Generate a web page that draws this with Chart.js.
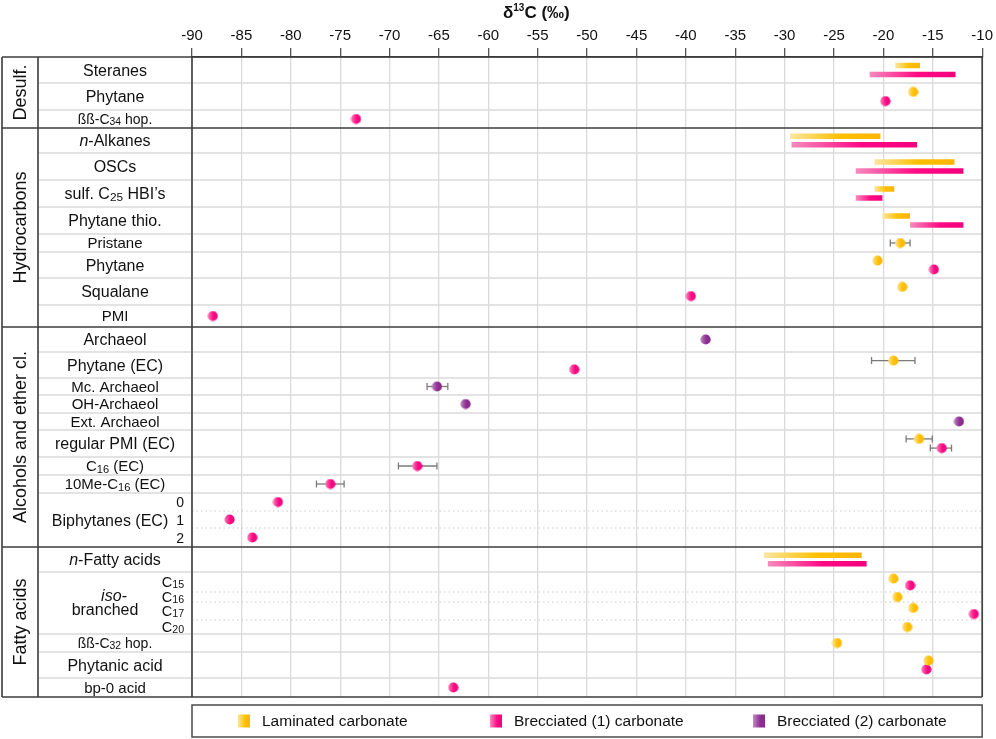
<!DOCTYPE html>
<html>
<head>
<meta charset="utf-8">
<script src="https://cdn.jsdelivr.net/npm/chart.js@4.4.1/dist/chart.umd.min.js"></script>
<style>
  html, body { margin: 0; padding: 0; background: #fff; }
  #wrap { width: 996px; height: 739px; position: relative; }
</style>
</head>
<body>
<div id="wrap"><canvas id="isoChart"></canvas></div>
<script>
// rows top to bottom; {..} = small digits, *..* = italic
const rowLabels = [
  'Steranes', 'Phytane', 'ßß-C{34} hop.',
  '*n*-Alkanes', 'OSCs', 'sulf. C{25} HBI’s', 'Phytane thio.', 'Pristane', 'Phytane', 'Squalane', 'PMI',
  'Archaeol', 'Phytane (EC)', 'Mc. Archaeol', 'OH-Archaeol', 'Ext. Archaeol', 'regular PMI (EC)',
  'C{16} (EC)', '10Me-C{16} (EC)', '0', '1', '2',
  '*n*-Fatty acids', 'C{15}', 'C{16}', 'C{17}', 'C{20}', 'ßß-C{32} hop.', 'Phytanic acid', 'bp-0 acid'
];
const groupNames = ['Desulf.', 'Hydrocarbons', 'Alcohols and ether cl.', 'Fatty acids'];
const groupFirstRow = [0, 3, 11, 22];
const subBlockNames = ['Biphytanes (EC)', 'iso-branched'];
const subBlockRows = [[19, 21], [23, 26]];
const xTickValues = [-90, -85, -80, -75, -70, -65, -60, -55, -50, -45, -40, -35, -30, -25, -20, -15, -10];
const seriesNames = ['Laminated carbonate', 'Brecciated (1) carbonate', 'Brecciated (2) carbonate'];

// ranges (bars)
const lamBarRows = [0, 3, 4, 5, 6, 22];
const lamBarLo   = [-18.8, -29.45, -20.9, -20.9, -20.1, -32.1];
const lamBarHi   = [-16.3, -20.3, -12.8, -18.9, -17.3, -22.2];
const brec1BarRows = [0, 3, 4, 5, 6, 22];
const brec1BarLo   = [-21.4, -29.3, -22.8, -22.8, -17.3, -31.7];
const brec1BarHi   = [-12.7, -16.6, -11.9, -20.1, -11.9, -21.7];

// single values (dots) with optional error range
const lamDotRows  = [1, 7, 8, 9, 12, 16, 23, 24, 25, 26, 27, 28];
const lamDotVals  = [-17.0, -18.3, -20.6, -18.1, -19.0, -16.4, -19.0, -18.6, -17.0, -17.6, -24.7, -15.45];
const lamErrLo    = [null, -19.3, null, null, -21.2, -17.7, null, null, null, null, null, null];
const lamErrHi    = [null, -17.3, null, null, -16.8, -15.05, null, null, null, null, null, null];

const brec1DotRows = [1, 2, 8, 9, 10, 12, 16, 17, 18, 19, 20, 21, 23, 25, 28, 29];
const brec1DotVals = [-19.8, -73.4, -14.9, -39.5, -87.9, -51.3, -14.1, -67.2, -76.0, -81.3, -86.2, -83.9, -17.3, -10.85, -15.65, -63.55];
const brec1ErrLo   = [null, null, null, null, null, null, -15.25, -69.1, -77.4, null, null, null, null, null, null, null];
const brec1ErrHi   = [null, null, null, null, null, null, -13.1, -65.2, -74.6, null, null, null, null, null, null, null];

const brec2DotRows = [11, 13, 14, 15];
const brec2DotVals = [-38.0, -65.2, -62.3, -12.35];
const brec2ErrLo   = [null, -66.2, null, null];
const brec2ErrHi   = [null, -64.1, null, null];

// layout: row heights (px at this size)
const rowHeights = [26, 27, 18, 25, 27, 27, 27, 18, 26, 27, 22, 25, 26, 17, 18, 17, 27, 18, 18, 18, 17, 19, 25, 20, 10, 18, 14, 18, 26, 19];

const FONT = '"Liberation Sans", Arial, sans-serif';
const COLORS = {
  lam:   { light: '#fbe6a0', base: '#ffc000', dark: '#ffb400' },
  brec1: { light: '#f58cbd', base: '#ff0a85', dark: '#f5007c' },
  brec2: { light: '#c08ac4', base: '#8e2f92', dark: '#842a88' }
};

const rowTop = [];
let acc = 0;
rowHeights.forEach(h => { rowTop.push(acc); acc += h; });
const totalH = acc;
function rowY(r, f) { return rowTop[r] + f * rowHeights[r]; }

const lamRowSet = new Set([...lamBarRows, ...lamDotRows]);
const brec1RowSet = new Set([...brec1BarRows, ...brec1DotRows]);
const shared = r => lamRowSet.has(r) && brec1RowSet.has(r);
const lamFrac = r => shared(r) ? 0.33 : 0.5;
const brec1Frac = r => shared(r) ? 0.67 : 0.5;

function barData(rows, lo, hi, frac) {
  const out = [];
  rows.forEach((r, i) => {
    const y = rowY(r, frac(r));
    out.push({ x: lo[i], y: y }, { x: hi[i], y: y }, { x: hi[i], y: null });
  });
  return out;
}
function dotData(rows, vals, frac) {
  return rows.map((r, i) => ({ x: vals[i], y: rowY(r, frac(r)) }));
}
function dotSprite(c) {
  const cv = document.createElement('canvas');
  const d = 11;
  cv.width = d; cv.height = d;
  const g = cv.getContext('2d');
  const gr = g.createLinearGradient(0, 0, d, 0);
  gr.addColorStop(0, c.light);
  gr.addColorStop(0.55, c.base);
  gr.addColorStop(1, c.dark);
  g.fillStyle = gr;
  g.beginPath();
  g.arc(d / 2, d / 2, d / 2 - 0.4, 0, Math.PI * 2);
  g.fill();
  return cv;
}
function segGradient(c) {
  return ctx => {
    const g = ctx.chart.ctx.createLinearGradient(ctx.p0.x, 0, ctx.p1.x, 0);
    g.addColorStop(0, c.light);
    g.addColorStop(0.55, c.base);
    g.addColorStop(1, c.dark);
    return g;
  };
}

function richParts(str) {
  return str.split(/(\{[^}]*\}|\*[^*]*\*)/).filter(s => s).map(s => {
    if (s[0] === '{') return { t: s.slice(1, -1), k: 'sub' };
    if (s[0] === '*') return { t: s.slice(1, -1), k: 'it' };
    return { t: s, k: 'n' };
  });
}
function drawRich(ctx, str, x, yc, size, align) {
  const parts = richParts(str);
  const fontFor = k => k === 'sub' ? (size * 0.74).toFixed(1) + 'px ' + FONT
    : (k === 'it' ? 'italic ' + size + 'px ' + FONT : size + 'px ' + FONT);
  let w = 0;
  parts.forEach(p => { ctx.font = fontFor(p.k); p.w = ctx.measureText(p.t).width; w += p.w; });
  let cx = align === 'center' ? x - w / 2 : (align === 'right' ? x - w : x);
  const base = yc + size * 0.36;
  ctx.textAlign = 'left';
  ctx.textBaseline = 'alphabetic';
  parts.forEach(p => {
    ctx.font = fontFor(p.k);
    ctx.fillText(p.t, cx, base + (p.k === 'sub' ? size * 0.08 : 0));
    cx += p.w;
  });
}
function hline(ctx, x0, x1, y) { ctx.beginPath(); ctx.moveTo(x0, y); ctx.lineTo(x1, y); ctx.stroke(); }
function vline(ctx, x, y0, y1) { ctx.beginPath(); ctx.moveTo(x, y0); ctx.lineTo(x, y1); ctx.stroke(); }

const X_OUT = 2, X_GRP = 38;

const tablePlugin = {
  id: 'table',
  beforeDatasetsDraw(chart) {
    const { ctx, chartArea: ca, scales: { x: xs, y: ys } } = chart;
    ctx.save();
    for (let r = 1; r < rowLabels.length; r++) {
      if (groupFirstRow.includes(r)) continue;
      const y = ys.getPixelForValue(rowTop[r]);
      const inSub = subBlockRows.some(b => r > b[0] && r <= b[1]);
      if (inSub) {
        ctx.strokeStyle = '#c9c9c9'; ctx.lineWidth = 1.2; ctx.setLineDash([1.5, 3]);
        hline(ctx, ca.left, ca.right, y);
        ctx.setLineDash([]);
      } else {
        ctx.strokeStyle = '#dadada'; ctx.lineWidth = 1.3;
        hline(ctx, X_GRP, ca.right, y);
      }
    }
    // error bars
    ctx.strokeStyle = '#7a7a7a'; ctx.lineWidth = 1.3;
    chart.data.datasets.forEach(ds => {
      if (!ds.errLo) return;
      ds.data.forEach((p, i) => {
        if (ds.errLo[i] == null) return;
        const y = ys.getPixelForValue(p.y);
        const a = xs.getPixelForValue(ds.errLo[i]), b = xs.getPixelForValue(ds.errHi[i]);
        hline(ctx, a, b, y);
        vline(ctx, a, y - 3.5, y + 3.5);
        vline(ctx, b, y - 3.5, y + 3.5);
      });
    });
    ctx.restore();
  },
  afterDraw(chart) {
    const { ctx, chartArea: ca, scales: { y: ys } } = chart;
    const yp = v => ys.getPixelForValue(v);
    ctx.save();
    // frame
    ctx.strokeStyle = '#3c3c3c'; ctx.lineWidth = 1.6;
    [0, ...groupFirstRow.slice(1).map(r => rowTop[r]), totalH].forEach(v => hline(ctx, X_OUT, ca.right, yp(v)));
    [X_OUT, X_GRP, ca.left, ca.right].forEach(x => vline(ctx, x, ca.top, ca.bottom));

    ctx.fillStyle = '#111';
    // group labels
    groupNames.forEach((g, i) => {
      const r0 = groupFirstRow[i];
      const r1 = i + 1 < groupFirstRow.length ? groupFirstRow[i + 1] : rowLabels.length;
      const yc = (yp(rowTop[r0]) + yp(r1 < rowLabels.length ? rowTop[r1] : totalH)) / 2;
      ctx.save();
      ctx.translate(20, yc);
      ctx.rotate(-Math.PI / 2);
      ctx.font = '18px ' + FONT;
      ctx.textAlign = 'center';
      ctx.textBaseline = 'middle';
      ctx.fillText(g, 0, 1);
      ctx.restore();
    });
    // row labels
    const labelX = (X_GRP + ca.left) / 2;
    rowLabels.forEach((lab, r) => {
      const yc = yp(rowY(r, 0.5));
      const blk = subBlockRows.findIndex(b => r >= b[0] && r <= b[1]);
      if (blk === 0) { drawRich(ctx, lab, 184, yc, 14, 'right'); return; }
      if (blk === 1) { drawRich(ctx, lab, 173, yc, 14.5, 'center'); return; }
      const size = lab.includes('ßß') ? 14 : (rowHeights[r] >= 24 ? 16 : 15);
      drawRich(ctx, lab, labelX, yc, size, 'center');
    });
    // sub-block labels
    const b0 = subBlockRows[0];
    drawRich(ctx, subBlockNames[0], 110, (yp(rowTop[b0[0]]) + yp(rowTop[b0[1]] + rowHeights[b0[1]])) / 2, 16, 'center');
    const b1 = subBlockRows[1];
    const ym = (yp(rowTop[b1[0]]) + yp(rowTop[b1[1]] + rowHeights[b1[1]])) / 2;
    const isoParts = subBlockNames[1].split('-');
    drawRich(ctx, '*' + isoParts[0] + '-*', 114, ym - 8, 16, 'center');
    drawRich(ctx, isoParts[1], 105, ym + 6, 16, 'center');

    // axis title δ13C (‰)
    ctx.textAlign = 'left'; ctx.textBaseline = 'alphabetic';
    let tx = 503;
    ctx.font = 'bold 17px ' + FONT;
    ctx.fillText('δ', tx, 18); tx += ctx.measureText('δ').width;
    ctx.font = 'bold 10px ' + FONT;
    ctx.fillText('13', tx, 11); tx += ctx.measureText('13').width;
    ctx.font = 'bold 17px ' + FONT;
    ctx.fillText('C (‰)', tx, 18);

    // legend box
    const lg = { l: 192, r: ca.right, t: 705, b: 737 };
    ctx.strokeStyle = '#4a4a4a'; ctx.lineWidth = 1.5;
    ctx.strokeRect(lg.l, lg.t, lg.r - lg.l, lg.b - lg.t);
    const swX = [238, 490, 753];
    const cols = [COLORS.lam, COLORS.brec1, COLORS.brec2];
    const lyc = (lg.t + lg.b) / 2;
    seriesNames.forEach((n, i) => {
      const g = ctx.createLinearGradient(swX[i], 0, swX[i] + 12, 0);
      g.addColorStop(0, cols[i].light);
      g.addColorStop(0.6, cols[i].base);
      g.addColorStop(1, cols[i].dark);
      ctx.fillStyle = g;
      ctx.fillRect(swX[i], lyc - 6.5, 12, 13);
      ctx.fillStyle = '#111';
      ctx.font = '15.5px ' + FONT;
      ctx.textBaseline = 'middle';
      ctx.fillText(n, swX[i] + 24, lyc + 1);
    });
    ctx.restore();
  }
};

const barCommon = { showLine: true, pointRadius: 0, pointHoverRadius: 0, borderWidth: 5.5, borderCapStyle: 'butt', tension: 0, spanGaps: false };

new Chart(document.getElementById('isoChart'), {
  type: 'scatter',
  data: {
    datasets: [
      Object.assign({ label: seriesNames[0] + ' range', data: barData(lamBarRows, lamBarLo, lamBarHi, lamFrac),
        segment: { borderColor: segGradient(COLORS.lam) }, borderColor: COLORS.lam.base }, barCommon),
      Object.assign({ label: seriesNames[1] + ' range', data: barData(brec1BarRows, brec1BarLo, brec1BarHi, brec1Frac),
        segment: { borderColor: segGradient(COLORS.brec1) }, borderColor: COLORS.brec1.base }, barCommon),
      { label: seriesNames[0], data: dotData(lamDotRows, lamDotVals, lamFrac), errLo: lamErrLo, errHi: lamErrHi,
        pointStyle: dotSprite(COLORS.lam), pointRadius: 5 },
      { label: seriesNames[1], data: dotData(brec1DotRows, brec1DotVals, brec1Frac), errLo: brec1ErrLo, errHi: brec1ErrHi,
        pointStyle: dotSprite(COLORS.brec1), pointRadius: 5 },
      { label: seriesNames[2], data: dotData(brec2DotRows, brec2DotVals, () => 0.5), errLo: brec2ErrLo, errHi: brec2ErrHi,
        pointStyle: dotSprite(COLORS.brec2), pointRadius: 5 }
    ]
  },
  options: {
    responsive: true,
    maintainAspectRatio: false,
    animation: false,
    layout: { padding: { left: 192, right: 12, top: 0, bottom: 42 } },
    plugins: { legend: { display: false }, tooltip: { enabled: true } },
    scales: {
      x: {
        type: 'linear',
        position: 'top',
        min: -90, max: -10,
        afterBuildTicks: s => { s.ticks = xTickValues.map(v => ({ value: v })); },
        afterFit: s => { s.height = 57; },
        ticks: { font: { size: 15, family: FONT }, color: '#111', padding: 3 },
        grid: { color: '#dadada', lineWidth: 1.3, tickLength: 9, tickColor: '#555' },
        border: { color: '#3c3c3c', width: 1.6 }
      },
      y: { type: 'linear', reverse: true, min: 0, max: totalH, display: false }
    }
  },
  plugins: [tablePlugin]
});
</script>
</body>
</html>
